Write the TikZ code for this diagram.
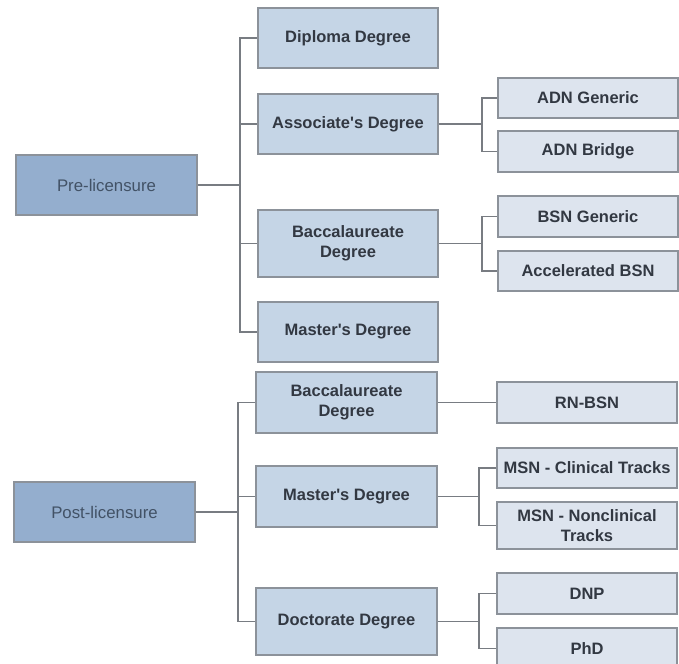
\documentclass[tikz,border=0pt]{standalone}
\usepackage{fontspec}
\setmainfont{Liberation Sans}
\definecolor{rootfill}{RGB}{148,174,206}
\definecolor{midfill}{RGB}{197,213,230}
\definecolor{leaffill}{RGB}{221,228,238}
\definecolor{boxline}{RGB}{140,146,154}
\definecolor{linkc}{RGB}{120,124,130}
\definecolor{roottext}{RGB}{66,82,102}
\definecolor{kidtext}{RGB}{50,56,66}
\begin{document}
\begin{tikzpicture}[x=1pt,y=-1pt,
  box/.style={draw=boxline,line width=1.3pt,rectangle,inner sep=2pt,align=center,
    font=\fontsize{16.8}{19.8}\selectfont},
  rootbox/.style={box,fill=rootfill,text=roottext,minimum width=181pt,minimum height=60pt},
  midbox/.style={box,fill=midfill,text=kidtext,font=\fontsize{16.5}{19.8}\selectfont\bfseries,minimum width=180pt},
  leafbox/.style={box,fill=leaffill,text=kidtext,font=\fontsize{16.5}{19.8}\selectfont\bfseries,minimum width=180pt},
  link/.style={draw=linkc,line width=1.2pt}]
\useasboundingbox (0,0) rectangle (679,663);
\clip (0,0) rectangle (679,663);
% pre-licensure
\node[rootbox] (pre) at (106.5,185) {Pre-licensure};
\node[midbox,minimum height=60pt] (dip) at (348,38) {Diploma Degree};
\node[midbox,minimum height=60pt] (asc) at (348,124) {Associate\textquotesingle s Degree};
\node[midbox,minimum height=67pt] (bac) at (348,243.5) {Baccalaureate\\Degree};
\node[midbox,minimum height=60pt] (mas) at (348,332) {Master\textquotesingle s Degree};
\node[leafbox,minimum height=40pt] (adng) at (588,98) {ADN Generic};
\node[leafbox,minimum height=41pt] (adnb) at (588,151.5) {ADN Bridge};
\node[leafbox,minimum height=41pt] (bsng) at (588,216.5) {BSN Generic};
\node[leafbox,minimum height=40pt] (abs) at (588,271) {Accelerated BSN};
% post-licensure
\node[rootbox] (post) at (104.5,512) {Post-licensure};
\node[midbox,minimum height=61pt,minimum width=181pt] (pbac) at (346.5,402.5) {Baccalaureate\\Degree};
\node[midbox,minimum height=61pt,minimum width=181pt] (pmas) at (346.5,496.5) {Master\textquotesingle s Degree};
\node[midbox,minimum height=67pt,minimum width=181pt] (doc) at (346.5,621.5) {Doctorate Degree};
\node[leafbox,minimum height=41pt] (rn) at (587,402.5) {RN-BSN};
\node[leafbox,minimum height=40pt,inner sep=0pt] (msnc) at (587,468) {MSN - Clinical Tracks};
\node[leafbox,minimum height=47pt] (msnn) at (587,525.5) {MSN - Nonclinical\\Tracks};
\node[leafbox,minimum height=41pt] (dnp) at (587,593.5) {DNP};
\node[leafbox,minimum height=41pt] (phd) at (587,648.5) {PhD};
% buses
\coordinate (preb) at (240,185);
\coordinate (ascb) at (482,124);
\coordinate (bacb) at (482,243.5);
\coordinate (postb) at (238,512);
\coordinate (pmasb) at (479,496.5);
\coordinate (docb) at (479,621.5);
% connectors
\draw[link] (pre.east) -- (preb);
\foreach \k in {dip,asc,bac,mas} \draw[link] (preb) |- (\k.west);
\draw[link] (asc.east) -- (ascb);
\foreach \k in {adng,adnb} \draw[link] (ascb) |- (\k.west);
\draw[link] (bac.east) -- (bacb);
\foreach \k in {bsng,abs} \draw[link] (bacb) |- (\k.west);
\draw[link] (post.east) -- (postb);
\foreach \k in {pbac,pmas,doc} \draw[link] (postb) |- (\k.west);
\draw[link] (pbac.east) -- (rn.west);
\draw[link] (pmas.east) -- (pmasb);
\foreach \k in {msnc,msnn} \draw[link] (pmasb) |- (\k.west);
\draw[link] (doc.east) -- (docb);
\foreach \k in {dnp,phd} \draw[link] (docb) |- (\k.west);
\end{tikzpicture}
\end{document}
